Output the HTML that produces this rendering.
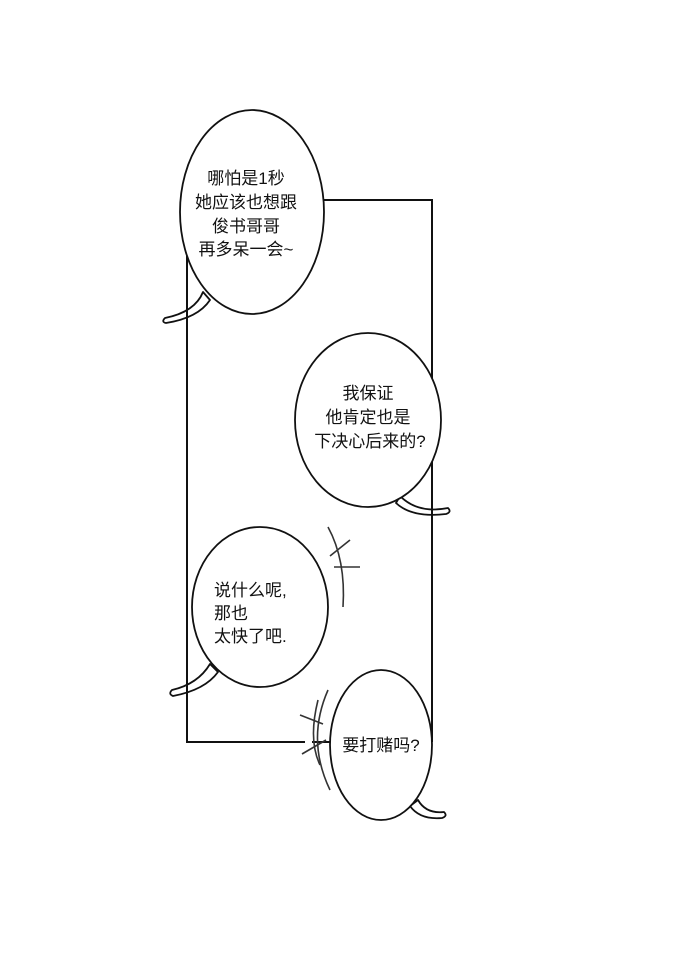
<!DOCTYPE html>
<html><head><meta charset="utf-8"><style>
html,body{margin:0;padding:0;background:#fff;}
svg{display:block;}
text{font-family:"Liberation Sans","Noto Sans CJK SC",sans-serif;font-size:17px;fill:#111;}
</style></head><body>
<svg width="690" height="980" viewBox="0 0 690 980" xmlns="http://www.w3.org/2000/svg">
<rect width="690" height="980" fill="#fff"/>
<!-- tails (under panel line) -->
<g fill="#fff" stroke="#111" stroke-width="1.8" stroke-linejoin="round">
<path d="M203 292 Q195 312 165 318 Q161 322 166 323 Q198 318 210 300 Z"/>
<path d="M400 496 Q418 514 448 508 Q452 512 446 514 Q412 518 396 503 Z"/>
<path d="M210 664 Q198 684 172 690 Q168 694 173 696 Q205 690 218 672 Z"/>
<path d="M418 800 Q426 814 444 812 Q448 816 442 818 Q420 820 410 806 Z"/>
</g>
<!-- panel -->
<path d="M187 200 H432 V742 M187 200 V742 H305 M312 742 H330" fill="none" stroke="#111" stroke-width="2"/>
<!-- stroke marks -->
<g fill="none" stroke="#333" stroke-width="1.6">
<path d="M328 527 Q346 560 343 607"/>
<path d="M330 556 L350 540"/>
<path d="M334 567 L360 567"/>
<path d="M328 690 Q306 740 330 790"/>
<path d="M318 700 Q308 740 320 765"/>
<path d="M300 715 L323 724"/>
<path d="M302 754 L326 740"/>
</g>
<g fill="#fff" stroke="#111" stroke-width="1.8">
<ellipse cx="252" cy="212" rx="72" ry="102"/>
<ellipse cx="368" cy="420" rx="73" ry="87"/>
<ellipse cx="260" cy="607" rx="68" ry="80"/>
<ellipse cx="381" cy="745" rx="51" ry="75"/>
</g>
<g text-anchor="middle">
<text x="246" y="184">哪怕是1秒</text>
<text x="246" y="208">她应该也想跟</text>
<text x="246" y="232">俊书哥哥</text>
<text x="246" y="255">再多呆一会~</text>
<text x="368" y="399">我保证</text>
<text x="368" y="423">他肯定也是</text>
<text x="370" y="447">下决心后来的?</text>
<text x="381" y="751">要打赌吗?</text>
</g>
<text x="214" y="596">说什么呢,</text>
<text x="214" y="619">那也</text>
<text x="214" y="642">太快了吧.</text>
</svg>
</body></html>
